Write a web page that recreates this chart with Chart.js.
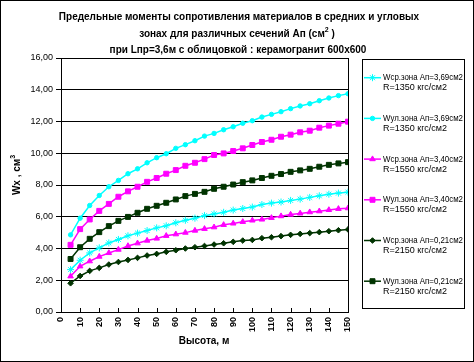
<!DOCTYPE html>
<html>
<head>
<meta charset="utf-8">
<script src="https://cdn.jsdelivr.net/npm/chart.js@4.4.1/dist/chart.umd.min.js"></script>
<style>
  html, body { margin:0; padding:0; background:#fff; }
  canvas { display:block; }
</style>
</head>
<body>
<canvas id="c" width="474" height="362"></canvas>
<script>
var FONT = "'Liberation Sans', Arial, sans-serif";

// heights, m
var heights = [5,10,15,20,25,30,35,40,45,50,55,60,65,70,75,80,85,90,95,100,105,110,115,120,125,130,135,140,145,150];

// Wx values, cm3
var wSr369 = [2.67,3.26,3.72,4.04,4.35,4.57,4.80,4.97,5.13,5.30,5.43,5.62,5.78,5.91,6.07,6.18,6.28,6.42,6.52,6.61,6.77,6.86,6.93,7.03,7.11,7.22,7.32,7.42,7.49,7.55];
var wUl369 = [4.86,5.91,6.71,7.34,7.89,8.29,8.71,9.02,9.40,9.72,9.97,10.31,10.54,10.79,11.08,11.25,11.48,11.67,11.89,12.05,12.28,12.45,12.62,12.81,12.98,13.12,13.31,13.48,13.63,13.75];
var wSr340 = [2.25,2.88,3.20,3.49,3.72,3.93,4.16,4.33,4.50,4.63,4.80,4.90,5.00,5.13,5.24,5.34,5.49,5.58,5.68,5.77,5.83,5.93,6.04,6.14,6.21,6.29,6.35,6.43,6.50,6.54];
var wUl340 = [4.23,5.22,5.83,6.37,6.81,7.26,7.60,7.89,8.20,8.44,8.71,8.94,9.21,9.40,9.63,9.89,9.99,10.14,10.31,10.52,10.71,10.85,11.04,11.17,11.32,11.42,11.61,11.74,11.86,11.99];
var wSr021 = [1.81,2.27,2.59,2.78,2.99,3.15,3.28,3.41,3.56,3.66,3.79,3.89,4.00,4.08,4.16,4.25,4.33,4.42,4.50,4.54,4.65,4.71,4.78,4.86,4.92,4.97,5.03,5.09,5.15,5.20];
var wUl021 = [3.34,4.08,4.61,5.03,5.41,5.74,5.99,6.25,6.50,6.69,6.88,7.09,7.30,7.44,7.57,7.76,7.89,8.03,8.18,8.29,8.44,8.58,8.69,8.83,8.92,9.02,9.15,9.27,9.36,9.44];

var seriesNames = [
  ["Wср.зона Ап=3,69см2", "R=1350 кгс/см2"],
  ["Wул.зона Ап=3,69см2", "R=1350 кгс/см2"],
  ["Wср.зона Ап=3,40см2", "R=1550 кгс/см2"],
  ["Wул.зона Ап=3,40см2", "R=1550 кгс/см2"],
  ["Wср.зона Ап=0,21см2", "R=2150 кгс/см2"],
  ["Wул.зона Ап=0,21см2", "R=2150 кгс/см2"]
];
var seriesValues = [wSr369, wUl369, wSr340, wUl340, wSr021, wUl021];
var seriesColors = ["#00FFFF", "#00FFFF", "#FF00FF", "#FF00FF", "#003300", "#003300"];
var seriesPoints = ["star", "circle", "triangle", "rect", "rectRot", "rect"];
var seriesRadius = [3.5, 2.2, 3.2, 3.5, 2.8, 3.5];

var xTicks = [0,10,20,30,40,50,60,70,80,90,100,110,120,130,140,150];

function toXY(vals){
  var out = [];
  for (var i=0; i<vals.length; i++) out.push({x: heights[i], y: vals[i]});
  return out;
}

var datasets = [];
for (var s=0; s<seriesValues.length; s++){
  datasets.push({
    label: seriesNames[s].join(" "),
    data: toXY(seriesValues[s]),
    borderColor: seriesColors[s],
    backgroundColor: seriesColors[s],
    borderWidth: 1.5,
    pointStyle: seriesPoints[s],
    pointRadius: seriesRadius[s],
    pointBorderWidth: 1,
    tension: 0
  });
}

function drawMarker(ctx, style, r, x, y, color){
  ctx.save();
  ctx.fillStyle = color; ctx.strokeStyle = color; ctx.lineWidth = 1;
  if (Chart.helpers && Chart.helpers.drawPoint){
    Chart.helpers.drawPoint(ctx, {pointStyle: style, radius: r, rotation: 0, borderWidth: 1}, x, y);
  }
  ctx.restore();
}

// text with a superscript tail
function supText(ctx, main, sup, tail, x, y, size){
  ctx.font = "bold " + size + "px " + FONT;
  var w1 = ctx.measureText(main).width;
  ctx.font = "bold " + (size-3) + "px " + FONT;
  var w2 = ctx.measureText(sup).width;
  ctx.font = "bold " + size + "px " + FONT;
  var w3 = ctx.measureText(tail).width;
  var x0 = x - (w1+w2+w3)/2;
  ctx.textAlign = "left"; ctx.textBaseline = "middle";
  ctx.fillText(main, x0, y);
  ctx.font = "bold " + (size-3) + "px " + FONT;
  ctx.fillText(sup, x0+w1, y-4);
  ctx.font = "bold " + size + "px " + FONT;
  ctx.fillText(tail, x0+w1+w2, y);
}

var decor = {
  id: "decor",
  beforeDraw: function(chart){
    var ctx = chart.ctx;
    ctx.save();
    ctx.fillStyle = "#fff";
    ctx.fillRect(0, 0, chart.width, chart.height);
    ctx.restore();
  },
  afterDraw: function(chart){
    var ctx = chart.ctx, a = chart.chartArea;
    var xs = chart.scales.x;
    ctx.save();
    ctx.strokeStyle = "#000"; ctx.lineWidth = 1;
    // plot box
    ctx.strokeRect(Math.round(a.left)+0.5, Math.round(a.top)+0.5, Math.round(a.right-a.left), Math.round(a.bottom-a.top));
    // inward x ticks
    ctx.beginPath();
    for (var i=0; i<xTicks.length; i++){
      var px = Math.round(xs.getPixelForValue(xTicks[i]))+0.5;
      ctx.moveTo(px, a.bottom); ctx.lineTo(px, a.bottom-4);
    }
    ctx.stroke();
    // outer frame
    ctx.strokeRect(0.5, 0.5, chart.width-1, chart.height-1);

    // title
    ctx.fillStyle = "#000";
    ctx.font = "bold 10px " + FONT;
    ctx.textAlign = "center"; ctx.textBaseline = "middle";
    ctx.fillText("Предельные моменты сопротивления материалов в средних и угловых", 239, 17.5);
    supText(ctx, "зонах для различных сечений Ап (см", "2", " )", 237, 34, 10);
    ctx.font = "bold 10px " + FONT;
    ctx.textAlign = "center";
    ctx.fillText("при Lпр=3,6м с облицовкой : керамогранит 600х600", 238, 50);

    // axis titles
    ctx.font = "bold 10px " + FONT;
    ctx.fillText("Высота, м", 204, 341);
    ctx.save();
    ctx.translate(17, 175);
    ctx.rotate(-Math.PI/2);
    supText(ctx, "Wx , см", "3", "", 0, 0, 10);
    ctx.restore();

    // legend
    ctx.strokeRect(362.5, 59.5, 102, 249);
    for (var s=0; s<datasets.length; s++){
      var y0 = 77.7 + s*40.7;
      ctx.strokeStyle = seriesColors[s]; ctx.lineWidth = 1.5;
      ctx.beginPath(); ctx.moveTo(364, y0); ctx.lineTo(381, y0); ctx.stroke();
      drawMarker(ctx, seriesPoints[s], seriesRadius[s], 372.5, y0, seriesColors[s]);
      ctx.fillStyle = "#000";
      ctx.textAlign = "left"; ctx.textBaseline = "middle";
      ctx.font = "9px " + FONT;
      ctx.fillText(seriesNames[s][0], 383, y0, 80);
      ctx.fillText(seriesNames[s][1], 383, y0+10, 80);
    }
    ctx.restore();
  }
};

var chart = new Chart(document.getElementById("c"), {
  type: "line",
  data: { datasets: datasets },
  options: {
    responsive: false,
    animation: false,
    devicePixelRatio: 1,
    layout: { padding: { top: 58, right: 126, left: 0, bottom: 0 } },
    plugins: {
      legend: { display: false },
      title: { display: false },
      tooltip: { enabled: false }
    },
    scales: {
      x: {
        type: "linear",
        min: 0, max: 150,
        afterFit: function(sc){ sc.height = 50; },
        afterBuildTicks: function(sc){ sc.ticks = xTicks.map(function(v){ return {value: v}; }); },
        ticks: {
          minRotation: 90, maxRotation: 90, autoSkip: false,
          padding: 5,
          color: "#000",
          font: { family: FONT, size: 9, weight: "bold" }
        },
        grid: { drawOnChartArea: false, drawTicks: false },
        border: { color: "#000", width: 1 }
      },
      y: {
        min: 0, max: 16,
        afterFit: function(sc){ sc.width = 61; },
        ticks: {
          stepSize: 2,
          padding: 3,
          color: "#000",
          font: { family: FONT, size: 9 },
          callback: function(v){ return v.toFixed(2).replace(".", ","); }
        },
        grid: { color: "#000", lineWidth: 1, tickLength: 5 },
        border: { color: "#000", width: 1 }
      }
    }
  },
  plugins: [decor]
});
</script>
</body>
</html>
